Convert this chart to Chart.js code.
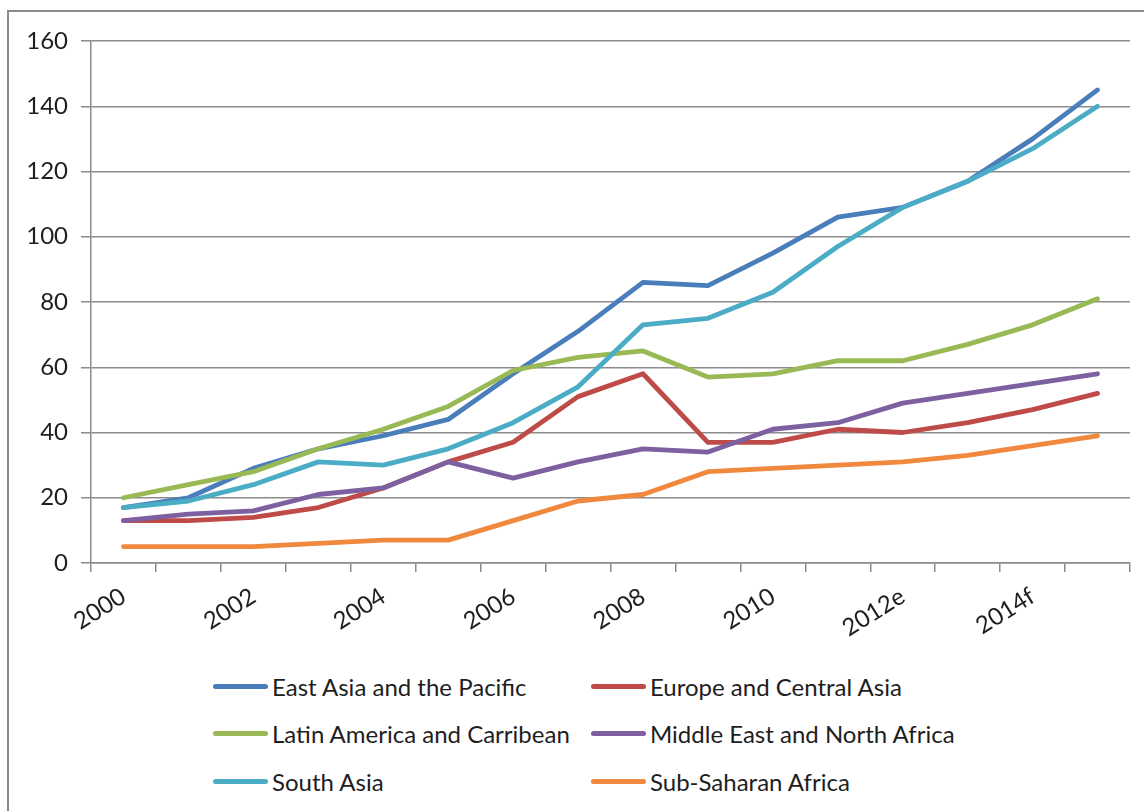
<!DOCTYPE html>
<html>
<head>
<meta charset="utf-8">
<script src="https://cdn.jsdelivr.net/npm/chart.js@4/dist/chart.umd.min.js"></script>
<style>
  body { margin: 0; background: #fff; width: 1144px; height: 811px; overflow: hidden; position: relative; font-family: Lato, "Open Sans", sans-serif; }
  #frame { position: absolute; left: 7px; top: 10px; width: 1200px; height: 900px; border: 2px solid #8a8a8a; box-sizing: border-box; }
  #chartBox { position: absolute; left: 0; top: 0; width: 1144px; height: 640px; }
  .legend-item { position: absolute; height: 30px; display: flex; align-items: center; font-size: 24px; color: #1e1e1e; white-space: nowrap; }
  .legend-line { width: 55px; height: 5px; border-radius: 3px; margin-right: 4px; }
</style>
</head>
<body>
<div id="frame"></div>
<div id="chartBox"><canvas id="regionChart" width="1144" height="640"></canvas></div>
<div id="legend"></div>
<script>
const years = ['2000', '2001', '2002', '2003', '2004', '2005', '2006', '2007',
               '2008', '2009', '2010', '2011', '2012e', '2013e', '2014f', '2015f'];

const eastAsia      = [17, 20, 29, 35, 39, 44, 58, 71, 86, 85, 95, 106, 109, 117, 130, 145];
const europe        = [13, 13, 14, 17, 23, 31, 37, 51, 58, 37, 37, 41, 40, 43, 47, 52];
const latinAmerica  = [20, 24, 28, 35, 41, 48, 59, 63, 65, 57, 58, 62, 62, 67, 73, 81];
const middleEast    = [13, 15, 16, 21, 23, 31, 26, 31, 35, 34, 41, 43, 49, 52, 55, 58];
const southAsia     = [17, 19, 24, 31, 30, 35, 43, 54, 73, 75, 83, 97, 109, 117, 127, 140];
const subSaharan    = [5, 5, 5, 6, 7, 7, 13, 19, 21, 28, 29, 30, 31, 33, 36, 39];

const seriesNames = ['East Asia and the Pacific', 'Europe and Central Asia',
                     'Latin America and Carribean', 'Middle East and North Africa',
                     'South Asia', 'Sub-Saharan Africa'];
const seriesData = [eastAsia, europe, latinAmerica, middleEast, southAsia, subSaharan];
const seriesColors = ['#4A7EBB', '#BE4B48', '#98B954', '#7D60A0', '#4BACC6', '#F0883E'];

const yTicks = [0, 20, 40, 60, 80, 100, 120, 140, 160];

const gridColor = '#8c8c8c';
const tickFont = { family: 'Lato, "Open Sans", sans-serif', size: 24 };

function buildLegend() {
    const legend = document.getElementById('legend');
    const cols = [213, 591];
    const rows = [671, 718, 766];
    seriesNames.forEach((name, i) => {
        const item = document.createElement('div');
        item.className = 'legend-item';
        item.style.left = cols[i % 2] + 'px';
        item.style.top = rows[Math.floor(i / 2)] + 'px';
        const line = document.createElement('span');
        line.className = 'legend-line';
        line.style.background = seriesColors[i];
        const label = document.createElement('span');
        label.textContent = name;
        item.appendChild(line);
        item.appendChild(label);
        legend.appendChild(item);
    });
}

function initializeChart() {
    const ctx = document.getElementById('regionChart').getContext('2d');
    new Chart(ctx, {
        type: 'line',
        data: {
            labels: years,
            datasets: seriesData.map((values, i) => ({
                label: seriesNames[i],
                data: values,
                borderColor: seriesColors[i],
                backgroundColor: seriesColors[i],
                borderWidth: 4.8,
                pointRadius: 0,
                tension: 0,
                borderCapStyle: 'round',
                borderJoinStyle: 'round',
                order: seriesData.length - i
            }))
        },
        options: {
            responsive: false,
            animation: false,
            layout: { padding: { top: 41, right: 14, left: 0, bottom: 0 } },
            plugins: {
                legend: { display: false },
                tooltip: { enabled: false }
            },
            scales: {
                x: {
                    offset: true,
                    afterFit: scale => { scale.height = 77; },
                    grid: {
                        offset: true,
                        drawOnChartArea: false,
                        drawTicks: true,
                        tickLength: 9,
                        color: gridColor,
                        lineWidth: 1.5
                    },
                    border: { color: gridColor, width: 1.5 },
                    ticks: {
                        autoSkip: false,
                        maxRotation: 32,
                        minRotation: 32,
                        padding: 10,
                        color: '#1e1e1e',
                        font: tickFont,
                        callback: (val, idx) => idx % 2 === 0 ? years[idx] : ''
                    }
                },
                y: {
                    min: yTicks[0],
                    max: yTicks[yTicks.length - 1],
                    afterFit: scale => { scale.width = 91; },
                    afterBuildTicks: scale => { scale.ticks = yTicks.map(v => ({ value: v })); },
                    grid: {
                        color: gridColor,
                        lineWidth: 1.5,
                        tickLength: 10
                    },
                    border: { color: gridColor, width: 1.5 },
                    ticks: {
                        padding: 13,
                        color: '#1e1e1e',
                        font: tickFont
                    }
                }
            }
        }
    });
}

document.addEventListener('DOMContentLoaded', () => {
    buildLegend();
    initializeChart();
});
</script>
</body>
</html>
